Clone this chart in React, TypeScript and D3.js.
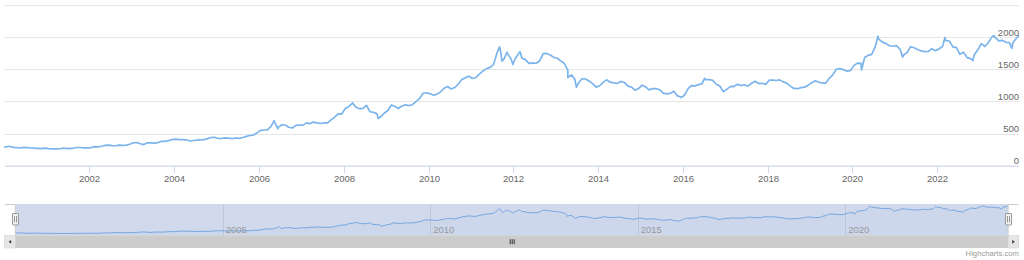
import React from "react";
import * as d3 from "d3";

// ---- DATA (USD / oz) ----
const years = [2000, 2001, 2002, 2003, 2004, 2005, 2006, 2007, 2008, 2009, 2010, 2011,
  2012, 2013, 2014, 2015, 2016, 2017, 2018, 2019, 2020, 2021, 2022, 2023];

const monthlyPrice: number[][] = [
  [292, 302, 286, 280, 275, 286, 282, 275, 274, 270, 266, 272],
  [266, 262, 263, 260, 272, 270, 267, 272, 283, 283, 276, 276],
  [282, 296, 294, 303, 315, 321, 313, 310, 319, 317, 319, 333],
  [357, 359, 341, 328, 356, 356, 351, 360, 379, 379, 390, 408],
  [414, 405, 407, 403, 384, 392, 398, 401, 405, 421, 439, 442],
  [424, 423, 434, 429, 422, 431, 425, 438, 456, 470, 477, 510],
  [550, 555, 557, 611, 677, 596, 634, 633, 598, 586, 628, 630],
  [631, 665, 655, 679, 667, 656, 665, 665, 713, 755, 806, 803],
  [890, 922, 968, 910, 889, 890, 940, 839, 830, 807, 761, 816],
  [859, 943, 924, 890, 929, 946, 934, 949, 997, 1043, 1127, 1135],
  [1118, 1095, 1113, 1149, 1205, 1233, 1193, 1216, 1271, 1342, 1370, 1391],
  [1356, 1373, 1424, 1474, 1510, 1529, 1573, 1756, 1772, 1665, 1739, 1652],
  [1656, 1743, 1674, 1650, 1591, 1599, 1594, 1630, 1745, 1747, 1722, 1685],
  [1672, 1628, 1593, 1488, 1414, 1343, 1286, 1352, 1349, 1317, 1276, 1222],
  [1244, 1300, 1336, 1299, 1288, 1279, 1311, 1295, 1237, 1223, 1175, 1201],
  [1252, 1227, 1179, 1199, 1199, 1182, 1128, 1118, 1125, 1159, 1086, 1068],
  [1097, 1200, 1245, 1242, 1261, 1276, 1337, 1340, 1327, 1267, 1238, 1151],
  [1192, 1234, 1231, 1267, 1246, 1260, 1237, 1283, 1314, 1280, 1282, 1265],
  [1331, 1331, 1325, 1335, 1304, 1282, 1238, 1202, 1198, 1215, 1221, 1250],
  [1292, 1320, 1301, 1286, 1284, 1359, 1413, 1500, 1511, 1495, 1470, 1479],
  [1561, 1597, 1592, 1683, 1716, 1732, 1847, 1969, 1922, 1900, 1866, 1858],
  [1867, 1808, 1718, 1760, 1850, 1835, 1808, 1785, 1775, 1777, 1821, 1790],
  [1816, 1856, 1948, 1937, 1849, 1837, 1733, 1765, 1681, 1665, 1726, 1798],
  [1898, 1854, 1913, 2000, 1992, 1943, 1951, 1919, 1915, 1916, 1986],
];

const spikeDates = ["2006-05-12", "2006-06-14", "2008-03-17", "2008-10-24", "2011-09-05",
  "2011-09-26", "2011-11-08", "2011-12-29", "2012-02-28", "2013-04-15", "2013-06-28",
  "2015-12-17", "2016-07-06", "2020-03-19", "2020-08-07", "2021-03-08", "2022-03-08",
  "2022-11-03", "2023-05-04", "2023-10-05"];
const spikeValues = [700, 575, 980, 735, 1850, 1625, 1765, 1575, 1775, 1370, 1220,
  1060, 1360, 1490, 2015, 1690, 1995, 1635, 2025, 1825];

const firstDate = "2000-01-03";
const firstValue = 290;
const lastDate = "2023-12-04";
const lastValue = 2025;

const yTicks = [0, 500, 1000, 1500, 2000, 2500];
const yLabels = ["0", "500", "1000", "1500", "2000"];
const xTickYears = [2002, 2004, 2006, 2008, 2010, 2012, 2014, 2016, 2018, 2020, 2022];
const navTickYears = [2005, 2010, 2015, 2020];

type Pt = { d: Date; v: number };

function buildData(): Pt[] {
  const start = new Date(firstDate + "T00:00:00Z");
  const end = new Date(lastDate + "T00:00:00Z");
  const pts: Pt[] = [{ d: start, v: firstValue }];
  years.forEach((y, i) => {
    monthlyPrice[i].forEach((v, m) => {
      const d = new Date(Date.UTC(y, m, 15));
      if (d > start && d < end) pts.push({ d, v });
    });
  });
  spikeDates.forEach((s, i) => pts.push({ d: new Date(s + "T00:00:00Z"), v: spikeValues[i] }));
  pts.push({ d: end, v: lastValue });
  pts.sort((a, b) => +a.d - +b.d);
  return pts;
}

const FONT = '"Lucida Grande", "Lucida Sans Unicode", Arial, Helvetica, sans-serif';

export default function App() {
  const data = buildData();
  const domain = d3.extent(data, (p) => p.d) as [Date, Date];

  // main plot
  const x = d3.scaleUtc().domain(domain).range([4.7, 1018.8]);
  const y = d3.scaleLinear().domain([0, 2500]).range([165.7, 5]);
  const line = d3.line<Pt>().x((p) => x(p.d)).y((p) => y(p.v));

  // navigator
  const navTop = 204;
  const navBottom = 235.7;
  const nx = d3.scaleUtc().domain(domain).range([15.3, 1008.1]);
  const vExt = d3.extent(data, (p) => p.v) as [number, number];
  const ny = d3.scaleLinear().domain(vExt).range([233.5, 206]);
  const navLine = d3.line<Pt>().x((p) => nx(p.d)).y((p) => ny(p.v)).curve(d3.curveMonotoneX);
  const navArea = d3.area<Pt>().x((p) => nx(p.d)).y0(navBottom).y1((p) => ny(p.v)).curve(d3.curveMonotoneX);

  const left = x.range()[0];
  const right = x.range()[1];
  const nl = nx.range()[0];
  const nr = nx.range()[1];
  const sbTop = navBottom;
  const sbH = 12.3;
  const gripX = (nl + nr) / 2;

  return (
    <svg width={1024} height={260} style={{ position: "absolute", left: 0, top: 0, display: "block" }}
      fontFamily={FONT}>
      <rect x={0} y={0} width={1024} height={260} fill="#ffffff" />
      {/* grid lines */}
      {yTicks.map((t) => (
        <line key={t} x1={left} x2={right} y1={Math.round(y(t)) + 0.5} y2={Math.round(y(t)) + 0.5}
          stroke="#e6e6e6" strokeWidth={1} />
      ))}
      {/* x axis */}
      <line x1={left} x2={right} y1={166} y2={166} stroke="#ccd6eb" strokeWidth={1} />
      {xTickYears.map((yr) => {
        const px = Math.round(x(new Date(Date.UTC(yr, 0, 1)))) + 0.5;
        return (
          <g key={yr}>
            <line x1={px} x2={px} y1={166} y2={173} stroke="#ccd6eb" strokeWidth={1} />
            <text x={px} y={181.5} textAnchor="middle" fontSize={9.5} fill="#666666">{yr}</text>
          </g>
        );
      })}
      {/* series */}
      <path d={line(data) || ""} fill="none" stroke="#7cb5ec" strokeWidth={1.7}
        strokeLinejoin="round" strokeLinecap="round" />
      {/* y labels */}
      {yLabels.map((lab, i) => (
        <text key={lab} x={1019} y={y(yTicks[i]) - 1.5} textAnchor="end" fontSize={9.5} fill="#666666">{lab}</text>
      ))}

      {/* navigator */}
      {navTickYears.map((yr) => {
        const px = Math.round(nx(new Date(Date.UTC(yr, 0, 1)))) + 0.5;
        return (
          <line key={"g" + yr} x1={px} x2={px} y1={navTop} y2={navBottom} stroke="#e6e6e6" strokeWidth={1} />
        );
      })}
      <path d={navArea(data) || ""} fill="#7cb5ec" fillOpacity={0.05} stroke="none" />
      <path d={navLine(data) || ""} fill="none" stroke="#7cb5ec" strokeWidth={1} />
      <rect x={nl} y={navTop} width={nr - nl} height={navBottom - navTop} fill="rgba(102,133,194,0.3)" />
      {navTickYears.map((yr) => {
        const px = nx(new Date(Date.UTC(yr, 0, 1)));
        return (
          <text key={"t" + yr} x={px + 3} y={232.5} fontSize={9.5} fill="#999999">{yr}</text>
        );
      })}
      <path d={`M${left},${navTop + 0.5}L${nl},${navTop + 0.5}L${nl},${navBottom}L${nr},${navBottom}L${nr},${navTop + 0.5}L${right},${navTop + 0.5}`}
        fill="none" stroke="#cccccc" strokeWidth={1} />

      {/* scrollbar */}
      <rect x={left} y={sbTop} width={right - left} height={sbH} fill="#f2f2f2" />
      <rect x={nl} y={sbTop} width={nr - nl} height={sbH} fill="#cccccc" />
      {[-2, 0, 2].map((o) => (
        <line key={o} x1={gripX + o + 0.5} x2={gripX + o + 0.5} y1={sbTop + 3.5} y2={sbTop + 8.5}
          stroke="#333333" strokeWidth={1} />
      ))}
      <rect x={left} y={sbTop} width={nl - left} height={sbH} fill="#e6e6e6" stroke="#cccccc" strokeWidth={0.5} />
      <path d={`M${(left + nl) / 2 + 1.2},${sbTop + 4.2}L${(left + nl) / 2 - 1.4},${sbTop + 6.15}L${(left + nl) / 2 + 1.2},${sbTop + 8.1}Z`} fill="#333333" />
      <rect x={nr} y={sbTop} width={right - nr} height={sbH} fill="#e6e6e6" stroke="#cccccc" strokeWidth={0.5} />
      <path d={`M${(nr + right) / 2 - 1.2},${sbTop + 4.2}L${(nr + right) / 2 + 1.4},${sbTop + 6.15}L${(nr + right) / 2 - 1.2},${sbTop + 8.1}Z`} fill="#333333" />

      {/* handles */}
      {[nl, nr].map((hx, i) => (
        <g key={"h" + i}>
          <rect x={Math.round(hx) - 3 + 0.5} y={213.5} width={6} height={11.5} rx={0.5} fill="#f2f2f2" stroke="#999999" strokeWidth={1} />
          <line x1={Math.round(hx) - 0.5} x2={Math.round(hx) - 0.5} y1={216} y2={222.5} stroke="#999999" strokeWidth={1} />
          <line x1={Math.round(hx) + 1.5} x2={Math.round(hx) + 1.5} y1={216} y2={222.5} stroke="#999999" strokeWidth={1} />
        </g>
      ))}

      {/* credits */}
      <text x={1019} y={255.5} textAnchor="end" fontSize={7.7} fill="#999999">Highcharts.com</text>
    </svg>
  );
}
